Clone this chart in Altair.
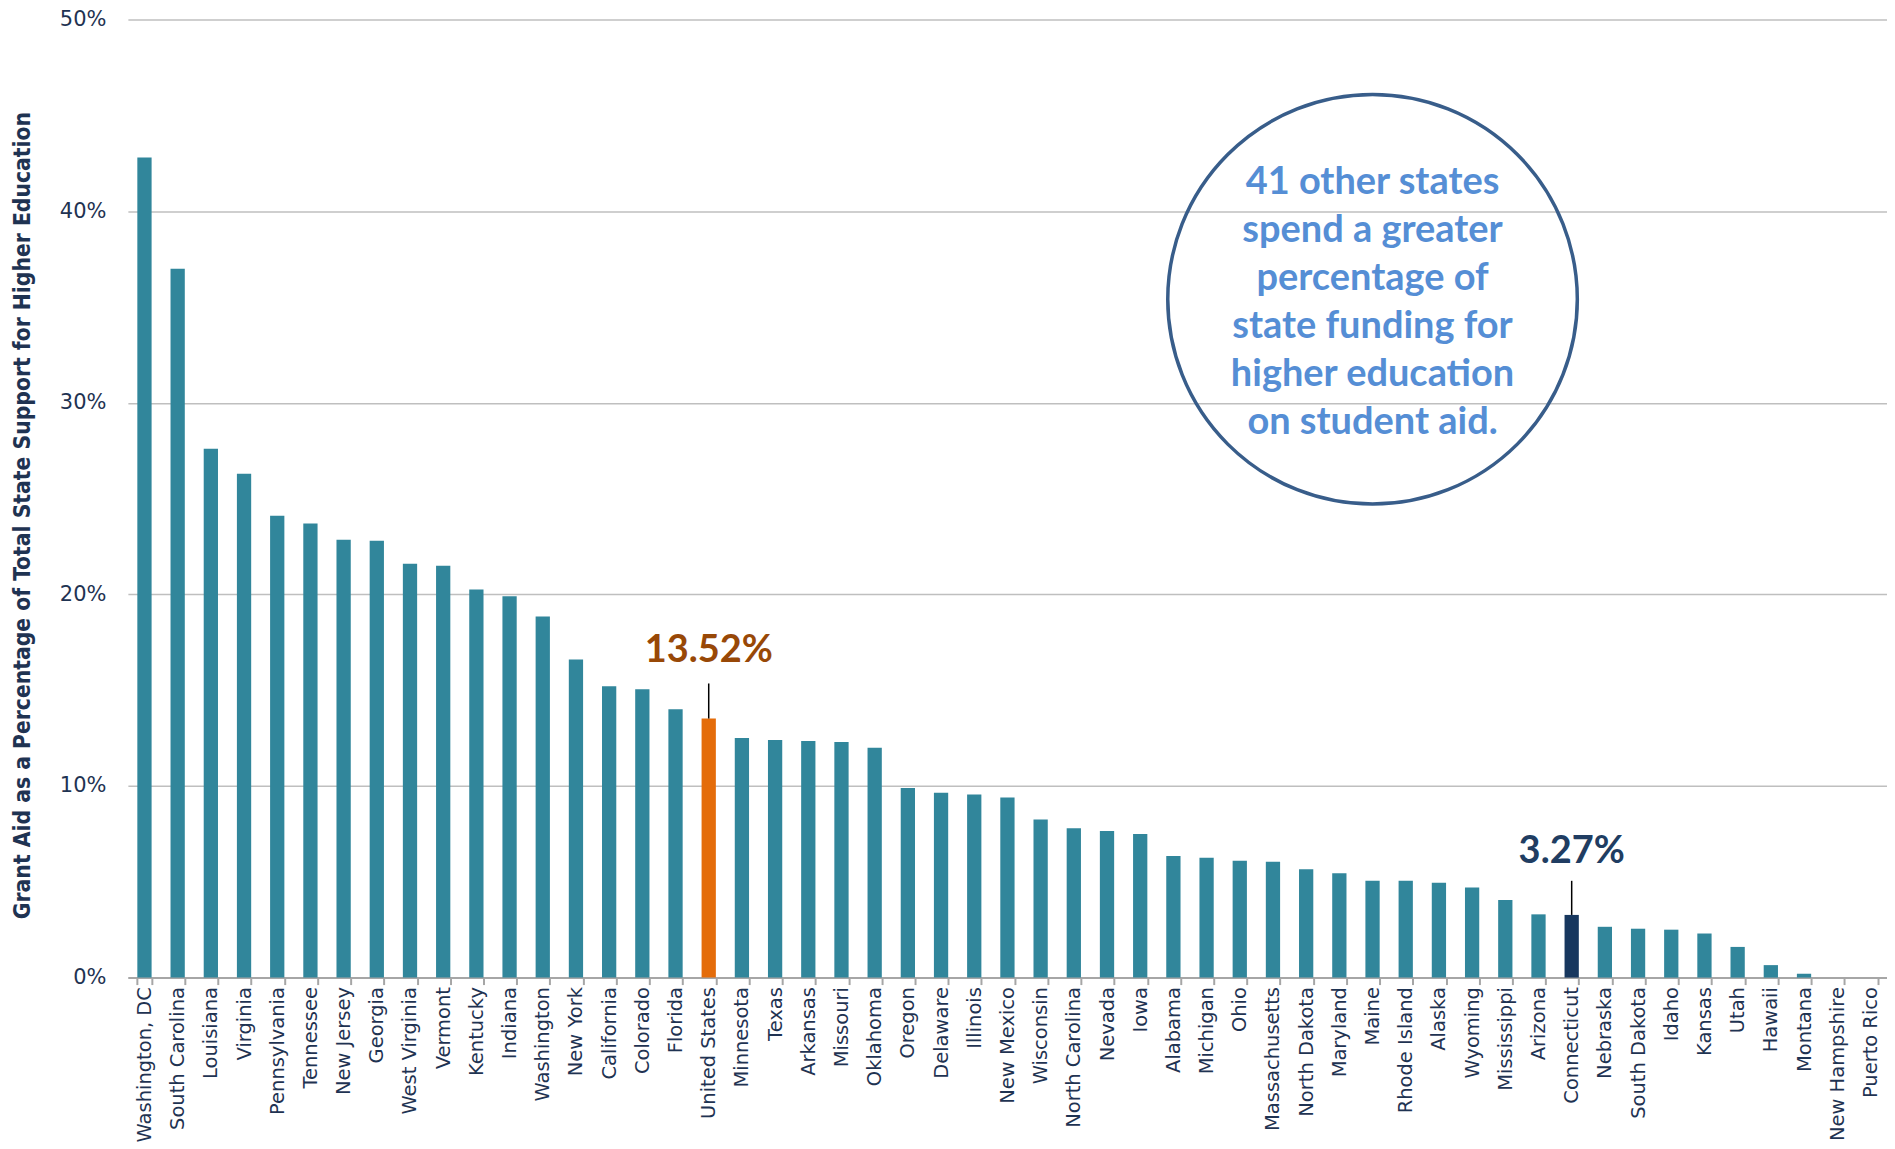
import altair as alt
import pandas as pd

states = [
    "Washington, DC", "South Carolina", "Louisiana", "Virginia", "Pennsylvania",
    "Tennessee", "New Jersey", "Georgia", "West Virginia", "Vermont", "Kentucky",
    "Indiana", "Washington", "New York", "California", "Colorado", "Florida",
    "United States", "Minnesota", "Texas", "Arkansas", "Missouri", "Oklahoma",
    "Oregon", "Delaware", "Illinois", "New Mexico", "Wisconsin", "North Carolina",
    "Nevada", "Iowa", "Alabama", "Michigan", "Ohio", "Massachusetts",
    "North Dakota", "Maryland", "Maine", "Rhode Island", "Alaska", "Wyoming",
    "Mississippi", "Arizona", "Connecticut", "Nebraska", "South Dakota", "Idaho",
    "Kansas", "Utah", "Hawaii", "Montana", "New Hampshire", "Puerto Rico",
]
values = [
    42.8, 37.0, 27.6, 26.3, 24.1,
    23.7, 22.85, 22.8, 21.6, 21.5, 20.25,
    19.9, 18.85, 16.6, 15.2, 15.05, 14.0,
    13.52, 12.5, 12.4, 12.35, 12.3, 12.0,
    9.9, 9.65, 9.55, 9.4, 8.25, 7.8,
    7.65, 7.5, 6.35, 6.25, 6.1, 6.05,
    5.65, 5.45, 5.05, 5.05, 4.95, 4.7,
    4.05, 3.3, 3.27, 2.65, 2.55, 2.5,
    2.3, 1.6, 0.65, 0.2, 0.0, 0.0,
]

highlight_states = ["United States", "Connecticut"]
highlight_colors = ["#E46C0A", "#17375E"]
base_color = "#31869B"

annot_states = ["United States", "Connecticut"]
annot_labels = ["13.52%", "3.27%"]
annot_label_y = [17.05, 6.55]
annot_line_top = [15.35, 5.05]
annot_line_bottom = [13.52, 3.27]
annot_colors = ["#984807", "#203D62"]

callout_state = ["Maine"]
callout_circle_y = [35.4]
callout_text_y = [41.45]
callout_lines = ["41 other states", "spend a greater", "percentage of",
                 "state funding for", "higher education", "on student aid."]

y_ticks = [0, 10, 20, 30, 40, 50]
y_title = "Grant Aid as a Percentage of Total State Support for Higher Education"

navy = "#1F3352"

bars_df = pd.DataFrame({"state": states, "value": values})
bars_df["group"] = [s if s in highlight_states else "Other" for s in states]

annot_df = pd.DataFrame({
    "state": annot_states, "label": annot_labels, "ly": annot_label_y,
    "top": annot_line_top, "bottom": annot_line_bottom, "color": annot_colors,
})
callout_df = pd.DataFrame({
    "state": callout_state, "cy": callout_circle_y, "ty": callout_text_y,
    "text": ["\n".join(callout_lines)],
})

x_enc = alt.X(
    "state:N", sort=states,
    scale=alt.Scale(paddingInner=0.57, paddingOuter=0.285),
    axis=alt.Axis(
        title=None, labelAngle=270, labelFont="DejaVu Sans", labelFontSize=19.5,
        labelColor=navy, tickBand="extent", tickSize=7, tickColor="#A6A6A6",
        tickWidth=2, domainColor="#A6A6A6", domainWidth=2, labelPadding=2,
        grid=False, labelAlign="right", labelBaseline="middle",
    ),
)
y_scale = alt.Scale(domain=[0, 50], nice=False)

bars = alt.Chart(bars_df).mark_bar().encode(
    x=x_enc,
    y=alt.Y(
        "value:Q", scale=y_scale,
        axis=alt.Axis(
            values=y_ticks, labelExpr="datum.value + '%'", title=y_title,
            titleFont="DejaVu Sans Condensed", titleFontWeight="bold", titleFontSize=22.7,
            titleColor=navy, titleAngle=270, titleX=-98, titleY=496,
            titleAlign="center", titleBaseline="alphabetic",
            domain=False, ticks=False, labelPadding=22, labelFont="DejaVu Sans",
            labelFontSize=21, labelColor=navy, gridColor="#BFBFBF", gridWidth=1.5,
        ),
    ),
    color=alt.Color(
        "group:N",
        scale=alt.Scale(domain=highlight_states + ["Other"],
                        range=highlight_colors + [base_color]),
        legend=None,
    ),
)

leaders = alt.Chart(annot_df).mark_rule(color="black", strokeWidth=1.5).encode(
    x=alt.X("state:N", sort=states),
    y=alt.Y("top:Q", scale=y_scale),
    y2="bottom:Q",
)

labels = alt.Chart(annot_df).mark_text(
    font="Lato", fontWeight="bold", fontSize=38, align="center", baseline="middle"
).encode(
    x=alt.X("state:N", sort=states),
    y=alt.Y("ly:Q", scale=y_scale),
    text="label:N",
    color=alt.Color("color:N", scale=None),
)

circle = alt.Chart(callout_df).mark_point(
    shape="circle", filled=False, size=410 * 410, strokeWidth=3.5,
    color="#385D8A", opacity=1,
).encode(
    x=alt.X("state:N", sort=states),
    y=alt.Y("cy:Q", scale=y_scale),
)

callout = alt.Chart(callout_df).mark_text(
    font="Lato", fontWeight="bold", fontSize=38, lineHeight=48,
    align="center", baseline="middle", color="#558ED5", lineBreak="\n",
).encode(
    x=alt.X("state:N", sort=states),
    y=alt.Y("ty:Q", scale=y_scale),
    text="text:N",
)

chart = alt.layer(bars, leaders, labels, circle, callout).properties(
    width=1761, height=959,
    autosize=alt.AutoSizeParams(type="none"),
    padding={"left": 120, "top": 11, "right": 0, "bottom": 170},
    background="white",
).configure_view(stroke=None)

chart.save("out.html", embed_options={"renderer": "svg", "actions": False})
